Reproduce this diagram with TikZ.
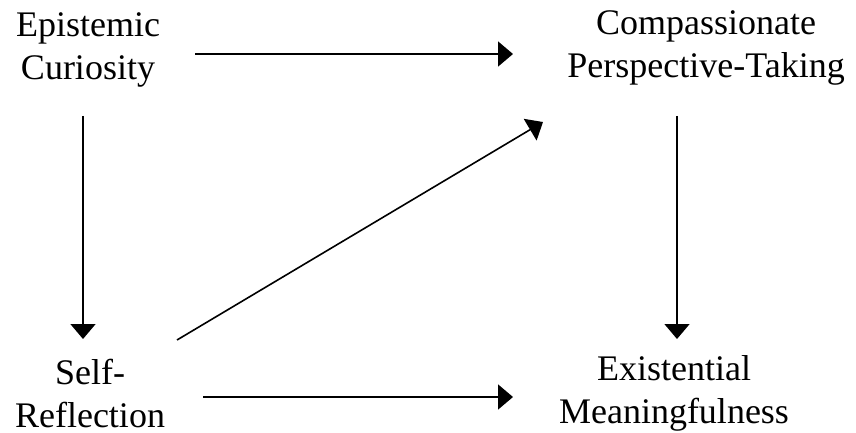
\documentclass[tikz,border=0pt]{standalone}
\usepackage{fontspec}
\setmainfont{Liberation Serif}
\usepackage{tikz}
\usetikzlibrary{arrows.meta,calc}

\begin{document}
\begin{tikzpicture}[
    x=1pt, y=-1pt,
    concept/.style={align=center, inner sep=0pt, anchor=base,
        font=\fontsize{36}{43}\selectfont},
    arrow/.style={-{Triangle[length=15pt, width=25pt]}, line width=1.6pt},
]
\useasboundingbox (0,0) rectangle (856,433);

% base anchor sits on the last line
\node[concept] (curio) at (88, 80) {Epistemic\\Curiosity};
\node[concept] (persp) at (706, 78) {Compassionate\\Perspective-Taking};
\node[concept] (reflect) at (90, 427) {Self-\\Reflection};
\node[concept] (meaning) at (674, 423) {Existential\\Meaningfulness};

\draw[arrow] ($(curio.base)+(107,-26)$) -- ($(persp.base)+(-193,-24)$);
\draw[arrow] ($(curio.base)+(-5,36)$) -- ($(reflect.base)+(-7,-88)$);
\draw[arrow] ($(persp.base)+(-29,38)$) -- ($(meaning.base)+(3,-84)$);
\draw[arrow] ($(reflect.base)+(87,-87)$) -- ($(persp.base)+(-163,44)$);
\draw[arrow] ($(reflect.base)+(113,-30)$) -- ($(meaning.base)+(-161,-26)$);

\end{tikzpicture}
\end{document}
